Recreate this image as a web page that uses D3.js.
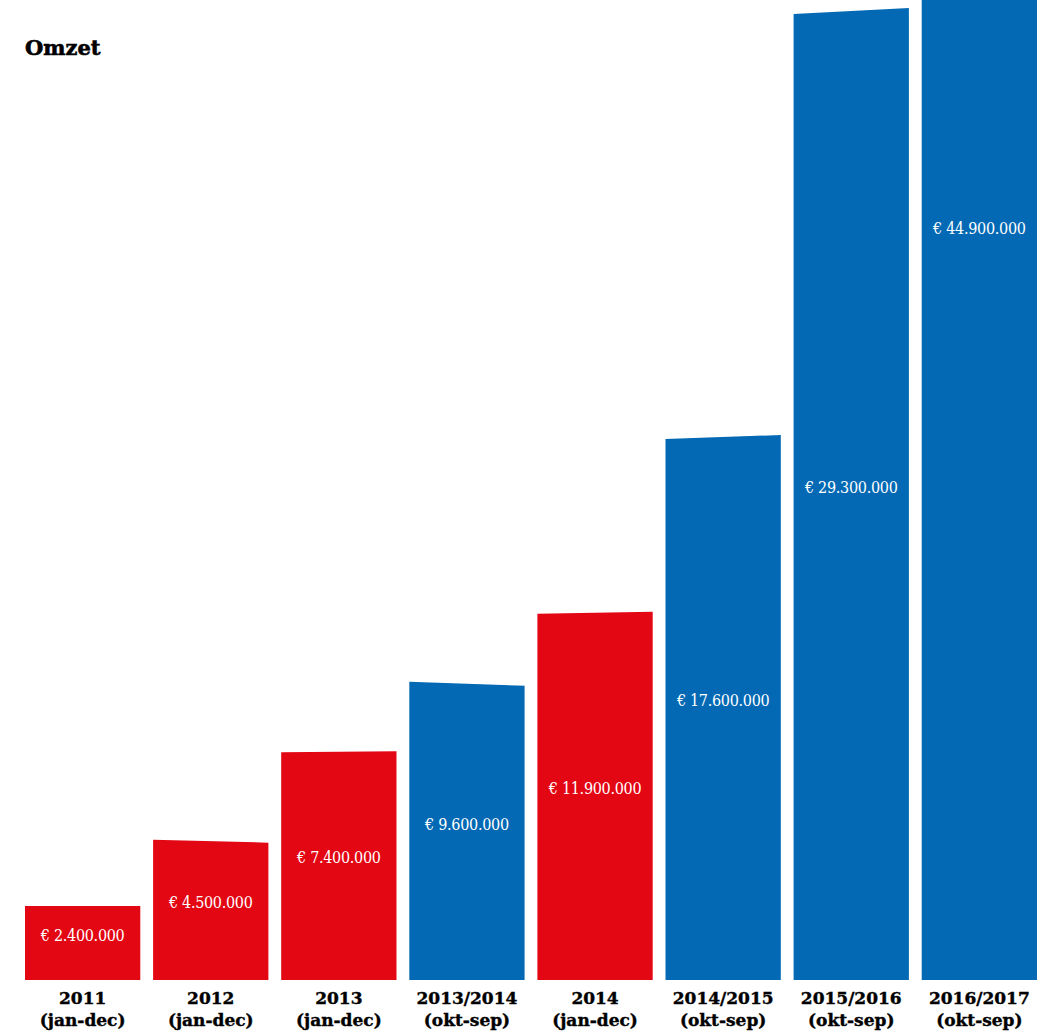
<!DOCTYPE html>
<html><head><meta charset="utf-8">
<script src="https://cdn.jsdelivr.net/npm/d3@7"></script>
<style>
html,body{margin:0;padding:0;background:#fff;}
svg{display:block;}
</style></head>
<body>
<svg id="chart" width="1052" height="1032"></svg>
<script>
const title = "Omzet";
const periods = ["2011","2012","2013","2013/2014","2014","2014/2015","2015/2016","2016/2017"];
const spans = ["(jan-dec)","(jan-dec)","(jan-dec)","(okt-sep)","(jan-dec)","(okt-sep)","(okt-sep)","(okt-sep)"];
const revenue = [2400000,4500000,7400000,9600000,11900000,17600000,29300000,44900000];
const periodType = ["jan-dec","jan-dec","jan-dec","okt-sep","jan-dec","okt-sep","okt-sep","okt-sep"];
// slight hand-drawn tilt of each bar top (decoration, px)
const tilt = [0,3,-1,4,-2,-4,-6,0];

const W = 1052, H = 1032;
const svg = d3.select("#chart");
const defs = svg.append("defs");
defs.append("clipPath").attr("id","clip").append("rect").attr("x",0).attr("y",0).attr("width",W).attr("height",H);

const x = d3.scaleBand().domain(periods).range([25,1037]).paddingInner(0.1).paddingOuter(0);
// infographic-style (non-proportional at the top) value scale
const y = d3.scaleLinear()
  .domain([0,17600000,29300000,44900000])
  .range([980,437,11,-508]);
const color = d3.scaleOrdinal().domain(["jan-dec","okt-sep"]).range(["#E30613","#0369B4"]);

const fmt = v => "€ " + d3.format(",")(v).replace(/,/g,".");

const g = svg.append("g").attr("clip-path","url(#clip)");
g.selectAll("path.bar").data(revenue).join("path")
  .attr("class","bar")
  .attr("fill",(d,i)=>color(periodType[i]))
  .attr("d",(d,i)=>{
    const x0 = x(periods[i]), x1 = x0 + x.bandwidth();
    const yt = y(d), yb = y(0);
    const t = tilt[i];
    return `M${x0},${yb}L${x0},${yt - t/2}L${x1},${yt + t/2}L${x1},${yb}Z`;
  });

g.selectAll("text.val").data(revenue).join("text")
  .attr("class","val")
  .attr("x",(d,i)=>x(periods[i]) + x.bandwidth()/2)
  .attr("y",d=>(y(d)+y(0))/2 - 8)
  .attr("dy","0.35em")
  .attr("text-anchor","middle")
  .attr("fill","#fff")
  .style("font-family","'DejaVu Serif Condensed','DejaVu Serif',serif")
  .style("font-size","16px")
  .style("letter-spacing","-0.3px")
  .text(d=>fmt(d));

const lab = svg.append("g");
lab.selectAll("text.p").data(periods).join("text")
  .attr("class","p")
  .attr("x",d=>x(d)+x.bandwidth()/2)
  .attr("y",1004)
  .attr("text-anchor","middle")
  .style("font-family","'DejaVu Serif',serif")
  .style("font-weight","bold")
  .style("font-size","17px")
  .style("stroke","#000").style("stroke-width","0.4px")
  .text(d=>d);
lab.selectAll("text.s").data(spans).join("text")
  .attr("class","s")
  .attr("x",(d,i)=>x(periods[i])+x.bandwidth()/2)
  .attr("y",1026)
  .attr("text-anchor","middle")
  .style("font-family","'DejaVu Serif',serif")
  .style("font-weight","bold")
  .style("font-size","17px")
  .style("stroke","#000").style("stroke-width","0.4px")
  .text(d=>d);

svg.append("text")
  .attr("x",25).attr("y",55)
  .style("font-family","'DejaVu Serif',serif")
  .style("font-weight","bold")
  .style("font-size","21px")
  .style("stroke","#000").style("stroke-width","0.6px")
  .text(title);
</script>
</body></html>
